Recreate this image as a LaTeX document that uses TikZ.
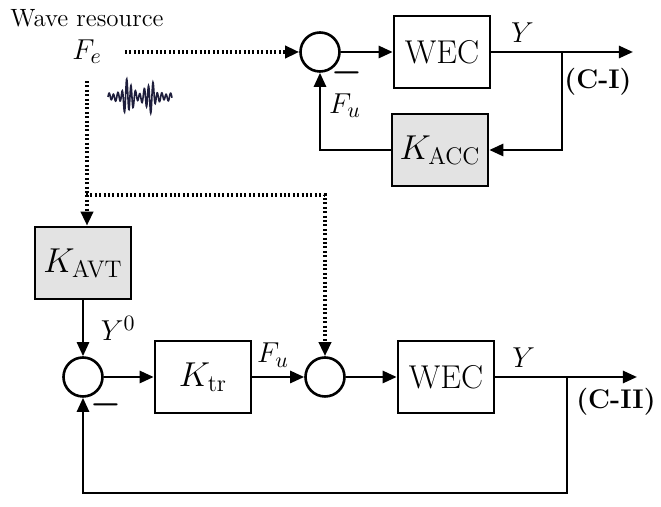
\documentclass[tikz,border=0pt]{standalone}
\usetikzlibrary{arrows.meta,positioning,calc}

\definecolor{wavecol}{RGB}{30,30,60}

\begin{document}
\begin{tikzpicture}[x=0.5pt,y=-0.5pt,line join=miter,
  font=\fontsize{15}{18}\selectfont,
  sig/.style={line width=1.3pt,-{Triangle[length=7pt,width=6pt]}},
  ffwd/.style={line width=1.7pt,dash pattern=on 1pt off 1.2pt,-{Triangle[length=7pt,width=6pt]}},
  block/.style={draw,line width=1.3pt,minimum width=48pt,minimum height=36pt,inner sep=0pt,
    font=\fontsize{16.5}{19}\selectfont},
  gain/.style={block,fill=black!11},
  sumnode/.style={draw,circle,line width=1.3pt,minimum size=19.5pt,inner sep=0pt},
  negsign/.style={inner sep=0pt,font=\fontsize{16}{19}\selectfont},
  looptag/.style={inner sep=0pt,font=\fontsize{13.5}{16}\selectfont\bfseries}]

\useasboundingbox (0,0) rectangle (661,507);

% wave input
\node[font=\fontsize{12.5}{15}\selectfont] (wres) at (87,18) {Wave resource};
\node (fe) at (87,52) {$F_e$};
\draw[wavecol,line width=0.8pt] plot[domain=0:64,samples=260]
  ({108+\x},{97-(4+15/(1+((\x-20)/5)^4)+13/(1+((\x-42)/5)^4))*(0.8*sin(82*\x)+0.2*sin(41*\x))});

% (C-I): causal controller
\node[sumnode] (s1) at (320,52) {};
\node[block] (wec1) at (442,52) {WEC};
\node[gain] (kacc) at (440,150) {$K_{\mathrm{ACC}}$};
\coordinate (out1) at (633,52);
\coordinate (br1) at (562,52);
\draw[ffwd,shorten <=8pt] (fe.east) -- (s1.west);
\draw[sig] (s1.east) -- (wec1.west);
\draw[sig] (wec1.east) -- node[pos=.22,above=1pt] {$Y$} (out1);
\draw[sig] (br1) |- (kacc.east);
\draw[sig] (kacc.west) -| (s1.south);
\node (fu1) at (345,106) {$F_u$};
\node[negsign] (neg1) at (347,73) {{\boldmath$-$}};
\node[looptag] (ci) at (598,82) {(C-I)};

% (C-II): tracking controller
\node[gain] (kavt) at (83,263) {$K_{\mathrm{AVT}}$};
\node[sumnode] (s2) at (83,377) {};
\node[block] (ktr) at (203,377) {$K_{\mathrm{tr}}$};
\node[sumnode] (s3) at (325,377) {};
\node[block] (wec2) at (446,377) {WEC};
\coordinate (out2) at (637,377);
\coordinate (br2) at (567,377);
\coordinate (fb2) at (567,493);
\coordinate (split) at (86,195);
\draw[ffwd,shorten <=5pt] (fe.south) -- (fe.south |- kavt.north);
\draw[ffwd] (split) -| (s3.north);
\draw[sig] (kavt.south) -- node[right=5pt] {$Y^0$} (s2.north);
\draw[sig] (s2.east) -- (ktr.west);
\draw[sig] (ktr.east) -- node[above=1pt,pos=.4] {$F_u$} (s3.west);
\draw[sig] (s3.east) -- (wec2.west);
\draw[sig] (wec2.east) -- node[pos=.2,above=1pt] {$Y$} (out2);
\draw[sig] (br2) -- (fb2) -| (s2.south);
\node[negsign] (neg2) at (106,405) {{\boldmath$-$}};
\node[looptag] (cii) at (616,402) {(C-II)};

\end{tikzpicture}
\end{document}
